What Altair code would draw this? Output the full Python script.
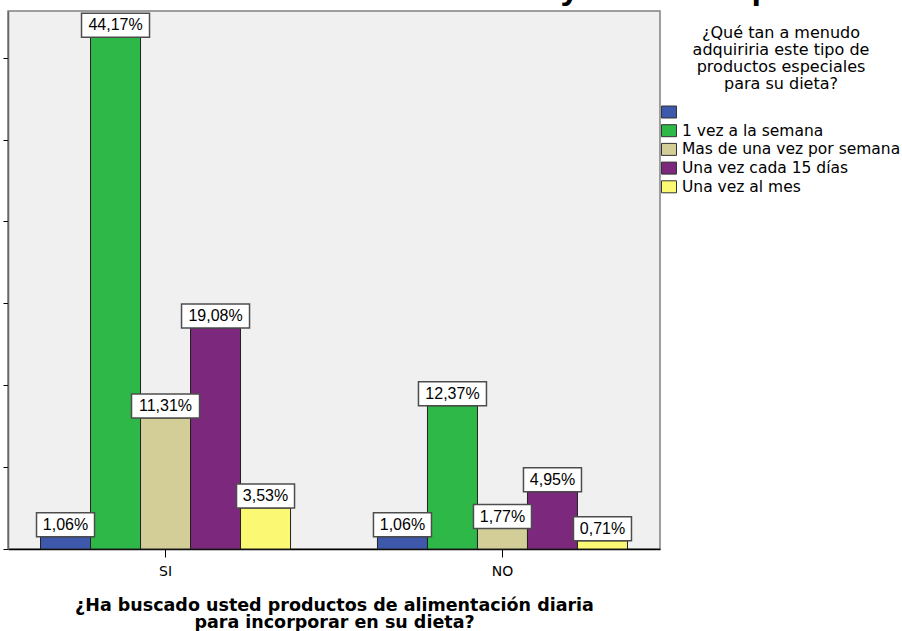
import altair as alt
import pandas as pd

# ---------------- data ----------------
groups = ["SI", "NO"]
categories = [" ", "1 vez a la semana", "Mas de una vez por semana",
              "Una vez cada 15 días", "Una vez al mes"]
colors = ["#3E58AC", "#2EB848", "#D3CE97", "#7C287D", "#FBF873"]
counts_si = [3, 125, 32, 54, 10]
counts_no = [3, 35, 5, 14, 2]
y_ticks = [0, 20, 40, 60, 80, 100, 120]
legend_title = ["¿Qué tan a menudo", "adquiriria este tipo de",
                "productos especiales", "para su dieta?"]
x_title = ["¿Ha buscado usted productos de alimentación diaria",
           "para incorporar en su dieta?"]

total = sum(counts_si) + sum(counts_no)
rows = []
for g, cs in zip(groups, [counts_si, counts_no]):
    for i, (c, n) in enumerate(zip(categories, cs)):
        pct = n / total * 100
        lab = f"{pct:.2f}".replace(".", ",") + "%"
        rows.append(dict(group=g, cat=c, order=i, count=n, label=lab, nchar=len(lab)))
df = pd.DataFrame(rows)

# ---------------- encodings ----------------
x_enc = alt.X(
    "group:N", sort=groups,
    scale=alt.Scale(paddingInner=0.258, paddingOuter=0.0965),
    axis=alt.Axis(title=x_title, labelAngle=0, domainColor="black", domainWidth=1.5,
                  tickColor="black", tickSize=8, tickWidth=1,
                  labelFont="DejaVu Sans", labelFontSize=14, labelColor="black",
                  labelPadding=7, titleFont="DejaVu Sans", titleFontWeight="bold",
                  titleFontSize=17.5, titleLineHeight=17, titlePadding=18,
                  titleColor="black", grid=False),
)
xoff_enc = alt.XOffset("cat:N", sort=categories,
                       scale=alt.Scale(domain=categories, paddingInner=0, paddingOuter=0))
y_enc = alt.Y(
    "count:Q",
    scale=alt.Scale(domain=[0, 131.4], nice=False, zero=True),
    axis=alt.Axis(values=y_ticks, labels=False, title=None, tickSize=5,
                  tickColor="black", domainColor="#666666", domainWidth=1.5, grid=False),
)

bars = alt.Chart(df).mark_bar(stroke="#222222", strokeWidth=1).encode(
    x=x_enc, xOffset=xoff_enc, y=y_enc,
    color=alt.Color(
        "cat:N", sort=categories,
        scale=alt.Scale(domain=categories, range=colors),
        legend=alt.Legend(
            title=legend_title, orient="none", legendX=653, legendY=14,
            titleFont="DejaVu Sans", titleFontSize=16, titleFontWeight="normal",
            titleColor="black", titleAnchor="middle", titleAlign="center",
            titleLimit=400, titleLineHeight=17, titlePadding=12,
            labelFont="DejaVu Sans", labelFontSize=15.5, labelColor="black",
            labelLimit=400, labelOffset=5,
            symbolType="M-1,-0.8H1V0.8H-1Z", symbolSize=225,
            symbolStrokeColor="#333333", symbolStrokeWidth=1, symbolOpacity=1,
            rowPadding=1.7, padding=0,
        ),
    ),
)

box6 = alt.Chart(df).transform_filter("datum.nchar == 6").mark_point(
    shape="M-34,-12H34V12H-34Z", size=4, filled=True, fill="white",
    stroke="#4d4d4d", strokeWidth=1.5, opacity=1, yOffset=-12,
).encode(x=alt.X("group:N", sort=groups), xOffset=alt.XOffset("cat:N", sort=categories),
         y="count:Q")

box5 = alt.Chart(df).transform_filter("datum.nchar == 5").mark_point(
    shape="M-29,-12H29V12H-29Z", size=4, filled=True, fill="white",
    stroke="#4d4d4d", strokeWidth=1.5, opacity=1, yOffset=-12,
).encode(x=alt.X("group:N", sort=groups), xOffset=alt.XOffset("cat:N", sort=categories),
         y="count:Q")

labels = alt.Chart(df).mark_text(
    font="Liberation Sans", fontSize=16, baseline="middle", align="center",
    dy=-12, color="black",
).encode(x=alt.X("group:N", sort=groups), xOffset=alt.XOffset("cat:N", sort=categories),
         y="count:Q", text="label:N")

one = pd.DataFrame({"a": [0]})
glyph_y = alt.Chart(one).mark_text(
    text="y", font="Liberation Sans", fontWeight="bold", fontSize=34,
    baseline="alphabetic", align="center", color="black",
).encode(x=alt.value(562), y=alt.value(-12))
glyph_p = alt.Chart(one).mark_text(
    text="p", font="Liberation Sans", fontWeight="bold", fontSize=34,
    baseline="alphabetic", align="center", color="black",
).encode(x=alt.value(754), y=alt.value(-12))

chart = alt.layer(bars, box6, box5, labels, glyph_y, glyph_p).properties(
    width=652, height=538,
    autosize=alt.AutoSizeParams(type="none"),
    padding={"left": 8, "top": 11, "right": 242, "bottom": 82},
    background="white",
).configure_view(fill="#F0F0F0", stroke="#808080", strokeWidth=1.5)

chart.save("out.html", embed_options={"renderer": "svg", "actions": False})
